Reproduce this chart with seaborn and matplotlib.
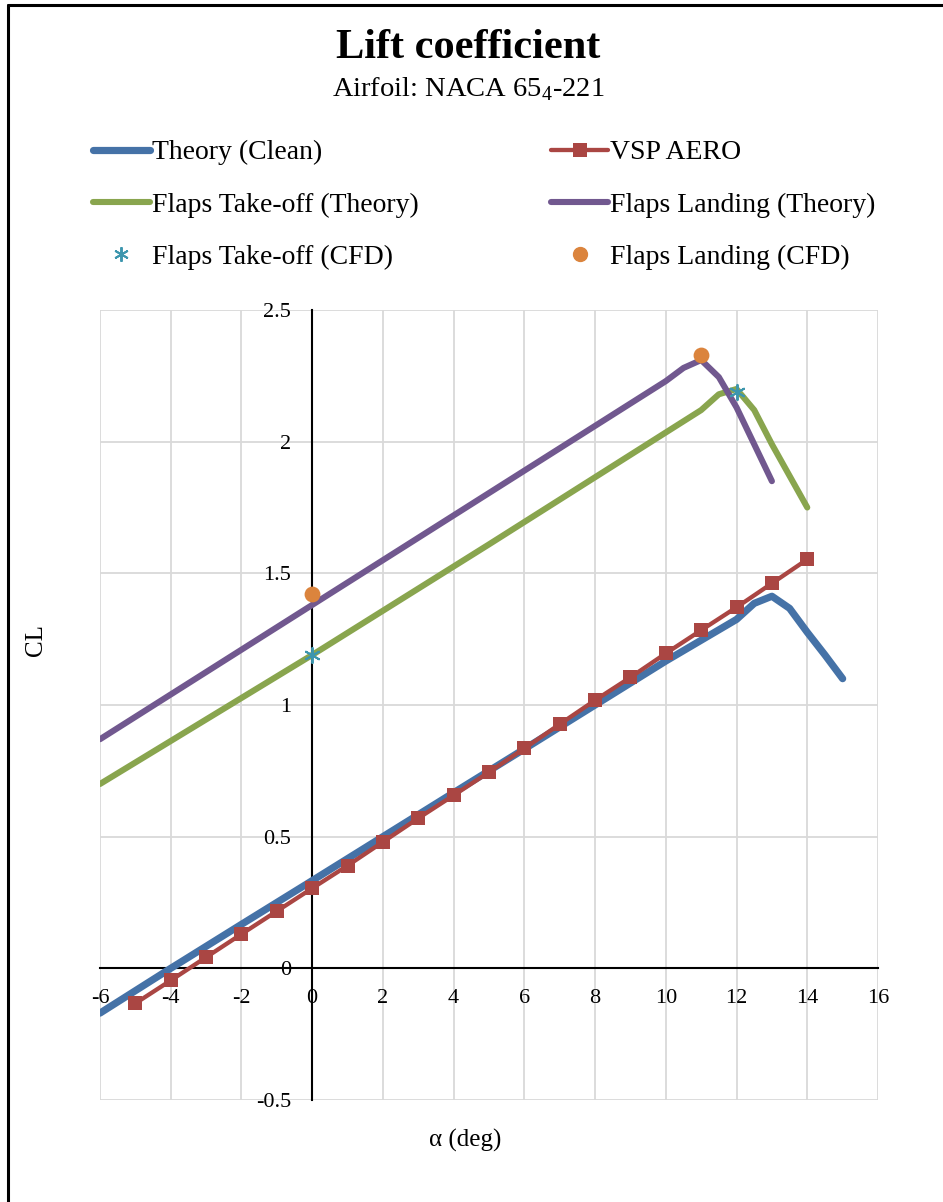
import numpy as np
import pandas as pd
import matplotlib
matplotlib.use('Agg')
import matplotlib.pyplot as plt
import seaborn as sns
from matplotlib.lines import Line2D

sns.set_style('white')
plt.rcParams['font.family'] = ['Liberation Serif', 'DejaVu Serif']
plt.rcParams['mathtext.fontset'] = 'custom'
plt.rcParams['mathtext.rm'] = 'Liberation Serif'
plt.rcParams['text.color'] = 'black'
plt.rcParams['xtick.color'] = 'black'
plt.rcParams['ytick.color'] = 'black'
plt.rcParams['axes.labelcolor'] = 'black'

# data
alpha_clean = [-6, -4, -2, 0, 2, 4, 6, 8, 10, 12, 12.5, 13, 13.5, 14, 14.5, 15]
cl_clean = [-0.17, 0.0, 0.167, 0.333, 0.50, 0.667, 0.833, 1.0, 1.167, 1.325, 1.386,
            1.413, 1.367, 1.276, 1.19, 1.10]

alpha_vsp = list(range(-5, 15))
cl_vsp = [-0.133, -0.046, 0.042, 0.13, 0.217, 0.304, 0.39, 0.48, 0.57, 0.657,
          0.745, 0.835, 0.927, 1.018, 1.105, 1.196, 1.284, 1.371, 1.462, 1.553]

alpha_to = [-6, 0, 5, 10, 11, 11.5, 12, 12.5, 13, 14]
cl_to = [0.70, 1.19, 1.61, 2.035, 2.12, 2.18, 2.20, 2.12, 1.99, 1.75]

alpha_land = [-6, 0, 5, 10, 10.5, 11, 11.5, 12, 13]
cl_land = [0.87, 1.38, 1.805, 2.23, 2.28, 2.31, 2.245, 2.13, 1.85]

alpha_to_cfd = [0, 12]
cl_to_cfd = [1.19, 2.19]
alpha_land_cfd = [0, 11]
cl_land_cfd = [1.42, 2.33]

c_blue = '#4572A7'
c_red = '#AA4643'
c_green = '#89A54E'
c_purple = '#71588F'
c_teal = '#3D96AE'
c_orange = '#DB843D'

fig = plt.figure(figsize=(9.43, 12.02), dpi=100)
ax = fig.add_axes([100/943, 1 - 1100/1202, 778/943, 790/1202])

sns.lineplot(x=alpha_clean, y=cl_clean, color=c_blue, lw=5.2, sort=False,
             solid_capstyle='round', solid_joinstyle='round', ax=ax, zorder=3)
sns.lineplot(x=alpha_vsp, y=cl_vsp, color=c_red, lw=3.1, marker='s', markersize=10,
             markeredgewidth=0, sort=False, ax=ax, zorder=4)
sns.lineplot(x=alpha_to, y=cl_to, color=c_green, lw=4.4, sort=False,
             solid_capstyle='round', solid_joinstyle='round', ax=ax, zorder=3)
sns.lineplot(x=alpha_land, y=cl_land, color=c_purple, lw=4.4, sort=False,
             solid_capstyle='round', solid_joinstyle='round', ax=ax, zorder=3)
sns.scatterplot(x=alpha_to_cfd, y=cl_to_cfd, color=c_teal, marker=(6, 2, 0), s=120,
                linewidth=1.4, edgecolor=c_teal, ax=ax, zorder=5)
sns.scatterplot(x=alpha_land_cfd, y=cl_land_cfd, color=c_orange, marker='o', s=130,
                linewidth=0, ax=ax, zorder=5)

ax.set_xlim(-6, 16)
ax.set_ylim(-0.5, 2.5)
ax.set_xticks(np.arange(-6, 17, 2))
ax.set_yticks(np.arange(-0.5, 2.51, 0.5))
ax.set_xticklabels([str(v) for v in range(-6, 17, 2)])
ax.set_yticklabels(['-0.5', '0', '0.5', '1', '1.5', '2', '2.5'])
ax.grid(True, color='#D9D9D9', lw=1.3)
ax.set_axisbelow(True)

for s in ['top', 'right']:
    ax.spines[s].set_visible(False)
ax.spines['left'].set_position(('data', 0))
ax.spines['bottom'].set_position(('data', 0))
for s in ['left', 'bottom']:
    ax.spines[s].set_color('black')
    ax.spines[s].set_linewidth(1.5)
    ax.spines[s].set_zorder(2)
ax.tick_params(axis='both', length=0, labelsize=16)
ax.tick_params(axis='x', pad=15)
ax.tick_params(axis='y', pad=15)

ax.set_xlabel('')
ax.set_ylabel('')
fig.text(465/943, 1 - 1140/1202, 'α (deg)', ha='center', va='center', fontsize=18)
fig.text(36/943, 1 - 640/1202, 'CL', ha='center', va='center', fontsize=18, rotation=90)

fig.text(468/943, 1 - 48/1202, 'Lift coefficient', ha='center', va='center',
         fontsize=30.5, fontweight='bold')
fig.text(468/943, 1 - 89/1202, r'Airfoil: NACA 65$_4$-221', ha='center', va='center',
         fontsize=20.5)

handles = [
    Line2D([], [], color=c_blue, lw=5.2, solid_capstyle='round'),
    Line2D([], [], color=c_green, lw=4.4, solid_capstyle='round'),
    Line2D([], [], color=c_teal, lw=0, marker=(6, 2, 0), markersize=10.5, markeredgewidth=1.4),
    Line2D([], [], color=c_red, lw=3.1, marker='s', markersize=10, markeredgewidth=0),
    Line2D([], [], color=c_purple, lw=4.4, solid_capstyle='round'),
    Line2D([], [], color=c_orange, lw=0, marker='o', markersize=10),
]
labels = ['Theory (Clean)', 'Flaps Take-off (Theory)', 'Flaps Take-off (CFD)',
          'VSP AERO', 'Flaps Landing (Theory)', 'Flaps Landing (CFD)']
fig.legend(handles, labels, ncol=2, loc='upper left',
           bbox_to_anchor=(93/943, 1 - 140/1202), frameon=False, fontsize=20,
           handlelength=2.05, handletextpad=0.07, columnspacing=4.78, labelspacing=0.96,
           borderpad=0, borderaxespad=0)

# outer chart border
fig.add_artist(Line2D([8/943, 8/943], [0, 1 - 5/1202], color='black', lw=2.2,
                      transform=fig.transFigure))
fig.add_artist(Line2D([8/943, 1], [1 - 5/1202, 1 - 5/1202], color='black', lw=2.2,
                      transform=fig.transFigure))

fig.savefig('out.png', dpi=100)
